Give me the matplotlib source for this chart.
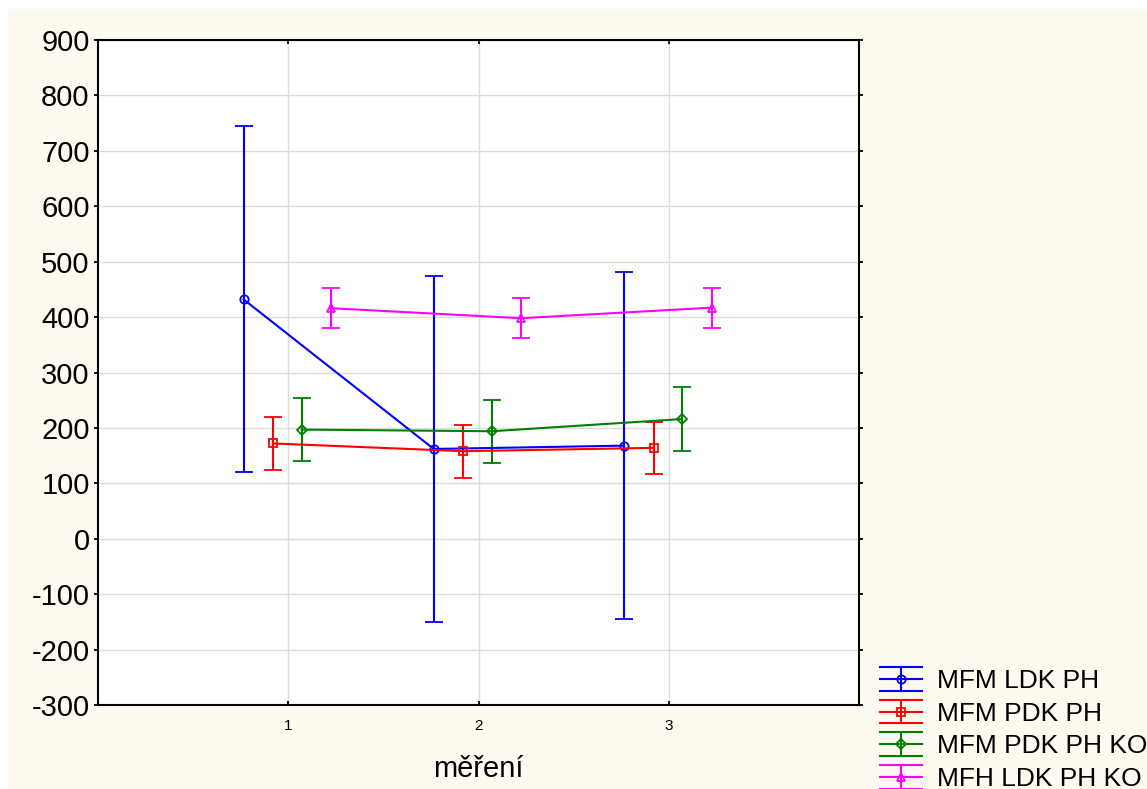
import matplotlib
matplotlib.use('Agg')
import matplotlib.pyplot as plt
import numpy as np
from matplotlib.patches import Rectangle
from matplotlib.lines import Line2D
from matplotlib.legend_handler import HandlerBase

plt.rcParams['font.family'] = ['Liberation Sans', 'DejaVu Sans']
plt.rcParams['axes.unicode_minus'] = False

# measurement index and per-series mean / error half-width
mereni = np.array([1, 2, 3])
series_names = ['MFM LDK PH', 'MFM PDK PH', 'MFM PDK PH KO', 'MFH LDK PH KO']
ldk_ph_mean = [432, 162, 168]
ldk_ph_err = [312, 312, 313]
pdk_ph_mean = [172, 158, 164]
pdk_ph_err = [48, 48, 47]
pdk_ko_mean = [197, 194, 216]
pdk_ko_err = [57, 57, 58]
ldk_ko_mean = [416, 398, 417]
ldk_ko_err = [36, 36, 36]

means = [ldk_ph_mean, pdk_ph_mean, pdk_ko_mean, ldk_ko_mean]
errs = [ldk_ph_err, pdk_ph_err, pdk_ko_err, ldk_ko_err]
colors = ['#0000ff', '#ff0000', '#008000', '#ff00ff']
markers = ['o', 's', 'D', '^']
msizes = [6, 6, 5, 6]
offsets = [-0.235, -0.08, 0.07, 0.225]


class BoxErrHandler(HandlerBase):
    """Legend key: line with full-width caps above and below, marker in the middle."""

    def create_artists(self, legend, orig_handle, xdescent, ydescent,
                       width, height, fontsize, trans):
        c = orig_handle.get_color()
        mk = orig_handle.get_marker()
        ms = orig_handle.get_markersize()
        mid = height / 2 - ydescent
        half = height * 0.68
        x0, x1 = -xdescent, width - xdescent
        xc = (x0 + x1) / 2
        arts = []
        for y in (mid - half, mid, mid + half):
            arts.append(Line2D([x0, x1], [y, y], color=c, lw=1.5))
        arts.append(Line2D([xc, xc], [mid - half, mid + half], color=c, lw=1.5))
        arts.append(Line2D([xc], [mid], marker=mk, ms=ms, mfc='none', mec=c, mew=1.3, ls='none'))
        for a in arts:
            a.set_transform(trans)
        return arts


fig = plt.figure(figsize=(11.47, 7.89), dpi=100, facecolor='white')
fig.patches.append(Rectangle((8 / 1147, 0), 1 - 8 / 1147, 1 - 9 / 789,
                             transform=fig.transFigure, facecolor='#fefaef',
                             edgecolor='none', zorder=-10))
ax = fig.add_axes([98 / 1147, 1 - 705 / 789, (859 - 98) / 1147, (705 - 40) / 789])
ax.set_facecolor('white')

proxies = []
for name, m, e, c, mk, ms, off in zip(series_names, means, errs, colors, markers, msizes, offsets):
    ax.errorbar(mereni + off, m, yerr=e, color=c, lw=1.5, marker=mk, ms=ms,
                mfc='none', mec=c, mew=1.3, capsize=6.5, capthick=1.5,
                elinewidth=1.5)
    proxies.append(Line2D([], [], color=c, marker=mk, ms=ms, label=name))

ax.set_xlim(0, 4)
ax.set_ylim(-300, 900)
ax.set_xticks([1, 2, 3])
ax.set_yticks(np.arange(-300, 901, 100))
ax.grid(True, color='#dcdcdc', lw=1)
ax.set_axisbelow(True)
for s in ax.spines.values():
    s.set_linewidth(1.5)
ax.tick_params(axis='y', labelsize=21, direction='out', length=3, width=1.3, pad=3)
ax.tick_params(axis='x', labelsize=11, direction='in', length=3, width=1.3, pad=10)
ax.tick_params(which='both', top=True, right=True)
ax.set_xlabel('měření', fontsize=21, labelpad=16)

leg = ax.legend(handles=proxies, handler_map={Line2D: BoxErrHandler()},
                loc='lower left', bbox_to_anchor=(1.014, -0.1455), frameon=False,
                fontsize=19, handlelength=1.6, handleheight=0.65, labelspacing=0.33,
                handletextpad=0.57, borderaxespad=0)

fig.savefig('out.png', dpi=100, facecolor=fig.get_facecolor())
